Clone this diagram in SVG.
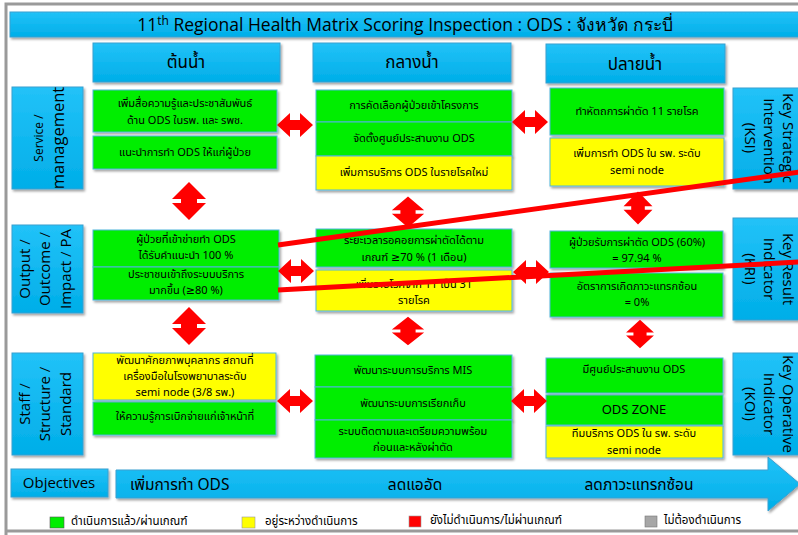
<svg xmlns="http://www.w3.org/2000/svg" width="798" height="535" viewBox="0 0 798 535">
<defs>
<filter id="sh" x="-10%" y="-10%" width="120%" height="130%">
<feDropShadow dx="1.5" dy="2" stdDeviation="1" flood-color="#000" flood-opacity="0.35"/>
</filter>
<linearGradient id="bl" x1="0" y1="0" x2="0" y2="1">
<stop offset="0" stop-color="#22c2f8"/>
<stop offset="1" stop-color="#00aee8"/>
</linearGradient>
<path id="ha" d="M-18,0 L-5,-12 L-5,-5 L5,-5 L5,-12 L18,0 L5,12 L5,5 L-5,5 L-5,12 Z"/>
<path id="va" d="M0,-19 L17,-2 L8,-2 L8,2 L17,2 L0,19 L-17,2 L-8,2 L-8,-2 L-17,-2 Z"/>
</defs>
<style>
.blue{fill:url(#bl);stroke:#3a9fd0;stroke-width:1;filter:url(#sh)}
.g{fill:#00ee00;stroke:#4fb5dc;stroke-width:1;filter:url(#sh)}
.y{fill:#ffff00;stroke:#4fb5dc;stroke-width:1;filter:url(#sh)}
.t{font-family:"Tahoma","Noto Sans Thai","Noto Sans","DejaVu Sans",sans-serif;font-size:11px;fill:#000;text-anchor:middle}
.h{font-family:"Tahoma","Noto Sans Thai","Noto Sans","DejaVu Sans",sans-serif;font-size:17px;fill:#000;text-anchor:middle}
.lab{font-family:"Open Sans","Noto Sans","DejaVu Sans",sans-serif;font-size:15px;fill:#000;text-anchor:middle}
.obj{font-family:"Tahoma","Noto Sans Thai","Noto Sans","DejaVu Sans",sans-serif;font-size:15.5px;fill:#000;text-anchor:middle}
.leg{font-family:"Tahoma","Noto Sans Thai","Noto Sans","DejaVu Sans",sans-serif;font-size:11.5px;fill:#000}
.red{fill:#ff0000}
.strike{stroke:#ff0000;stroke-width:5;stroke-linecap:butt}
</style>
<rect width="798" height="535" fill="#fff"/>
<g id="frame" fill="none" stroke="#9a9a9a" stroke-width="3">
<path d="M6,540 L6,4 L805,4"/>
<path d="M6,531 L805,531"/>
</g>
<g id="title">
<rect x="10" y="12" width="795" height="25" class="blue"/>
<text x="405" y="31" class="lab" style="font-size:17.5px">11<tspan dy="-6" style="font-size:12px">th</tspan><tspan dy="6"> Regional Health Matrix Scoring Inspection : ODS : จังหวัด กระบี่</tspan></text>
</g>
<g id="hdr1"><rect x="93" y="43" width="187" height="39" class="blue"/><text x="186" y="68" class="h">ต้นน้ำ</text></g>
<g id="hdr2"><rect x="313" y="43" width="198" height="39" class="blue"/><text x="412" y="68" class="h">กลางน้ำ</text></g>
<g id="hdr3"><rect x="546" y="44" width="179" height="39" class="blue"/><text x="635" y="70" class="h">ปลายน้ำ</text></g>
<g id="row-service"><rect x="12" y="87" width="71" height="102" class="blue"/>
<text transform="translate(43,138) rotate(-90)" class="lab" style="font-size:12px">Service /</text>
<text transform="translate(64,138) rotate(-90)" class="lab" style="font-size:16.5px">management</text></g>
<g id="row-output"><rect x="12" y="225" width="71" height="88" class="blue"/>
<text transform="translate(30,269) rotate(-90)" class="lab">Output /</text>
<text transform="translate(50,269) rotate(-90)" class="lab">Outcome /</text>
<text transform="translate(71,269) rotate(-90)" class="lab">Impact / PA</text></g>
<g id="row-staff"><rect x="12" y="353" width="71" height="102" class="blue"/>
<text transform="translate(30,404) rotate(-90)" class="lab">Staff /</text>
<text transform="translate(50,404) rotate(-90)" class="lab">Structure /</text>
<text transform="translate(71,404) rotate(-90)" class="lab">Standard</text></g>
<g id="ksi"><rect x="733" y="88" width="72" height="101" class="blue"/>
<text transform="translate(783,138) rotate(90)" class="lab">Key Strategic</text>
<text transform="translate(764,141) rotate(90)" class="lab">Intervention</text>
<text transform="translate(745,138) rotate(90)" class="lab">(KSI)</text></g>
<g id="kri"><rect x="733" y="218" width="72" height="102" class="blue"/>
<text transform="translate(783,269) rotate(90)" class="lab">Key Result</text>
<text transform="translate(764,269) rotate(90)" class="lab">Indicator</text>
<text transform="translate(745,269) rotate(90)" class="lab">(KRI)</text></g>
<g id="koi"><rect x="733" y="353" width="72" height="102" class="blue"/>
<text transform="translate(783,404) rotate(90)" class="lab">Key Operative</text>
<text transform="translate(764,404) rotate(90)" class="lab">Indicator</text>
<text transform="translate(745,404) rotate(90)" class="lab">(KOI)</text></g>

<g id="c1r1a"><rect x="93" y="90" width="184" height="42" class="g"/><text x="185" y="107" class="t">เพิ่มสื่อความรู้และประชาสัมพันธ์</text><text x="185" y="124" class="t">ด้าน ODS ในรพ. และ รพช.</text></g>
<g id="c1r1b"><rect x="93" y="136" width="184" height="33" class="g"/><text x="185" y="156" class="t">แนะนำการทำ ODS ให้แก่ผู้ป่วย</text></g>
<g id="c2r1a"><rect x="316" y="90" width="196" height="32" class="g"/><text x="414" y="109" class="t">การคัดเลือกผู้ป่วยเข้าโครงการ</text></g>
<g id="c2r1b"><rect x="316" y="122" width="196" height="34" class="g"/><text x="414" y="142" class="t">จัดตั้งศูนย์ประสานงาน ODS</text></g>
<g id="c2r1c"><rect x="316" y="156" width="196" height="34" class="y"/><text x="414" y="176" class="t">เพิ่มการบริการ ODS ในรายโรคใหม่</text></g>
<g id="c3r1a"><rect x="550" y="88" width="174" height="47" class="g"/><text x="637" y="115" class="t">ทำหัตถการผ่าตัด 11 รายโรค</text></g>
<g id="c3r1b"><rect x="550" y="138" width="174" height="48" class="y"/><text x="637" y="157" class="t">เพิ่มการทำ ODS ใน รพ. ระดับ</text><text x="637" y="174" class="t">semi node</text></g>

<g id="c1r2a"><rect x="93" y="230" width="186" height="37" class="g"/><text x="186" y="243" class="t">ผู้ป่วยที่เข้าข่ายทำ ODS</text><text x="186" y="259" class="t">ได้รับคำแนะนำ 100 %</text></g>
<g id="c1r2b"><rect x="93" y="267" width="186" height="33" class="g"/><text x="186" y="278" class="t">ประชาชนเข้าถึงระบบบริการ</text><text x="186" y="294" class="t">มากขึ้น (≥80 %)</text></g>
<g id="c2r2a"><rect x="316" y="229" width="196" height="38" class="g"/><text x="414" y="244" class="t">ระยะเวลารอคอยการผ่าตัดได้ตาม</text><text x="414" y="261" class="t">เกณฑ์  ≥70 % (1 เดือน)</text></g>
<g id="c2r2b"><rect x="316" y="270" width="196" height="41" class="y"/><text x="414" y="288" class="t">เพิ่มรายโรคจาก 11 เป็น 31</text><text x="414" y="304" class="t">รายโรค</text></g>
<g id="c3r2a"><rect x="550" y="231" width="173" height="37" class="g"/><text x="637" y="246" class="t">ผู้ป่วยรับการผ่าตัด  ODS (60%)</text><text x="637" y="262" class="t">= 97.94 %</text></g>
<g id="c3r2b"><rect x="550" y="273" width="173" height="44" class="g"/><text x="637" y="290" class="t">อัตราการเกิดภาวะแทรกซ้อน</text><text x="637" y="306" class="t">= 0%</text></g>

<g id="c1r3a"><rect x="93" y="353" width="183" height="47" class="y"/><text x="185" y="364" class="t">พัฒนาศักยภาพบุคลากร สถานที่</text><text x="185" y="380" class="t">เครื่องมือในโรงพยาบาลระดับ</text><text x="185" y="396" class="t">semi node (3/8 รพ.)</text></g>
<g id="c1r3b"><rect x="93" y="402" width="183" height="33" class="g"/><text x="185" y="420" class="t">ให้ความรู้การเบิกจ่ายแก่เจ้าหน้าที่</text></g>
<g id="c2r3a"><rect x="315" y="355" width="197" height="32" class="g"/><text x="413" y="374" class="t">พัฒนาระบบการบริการ MIS</text></g>
<g id="c2r3b"><rect x="315" y="387" width="197" height="33" class="g"/><text x="413" y="407" class="t">พัฒนาระบบการเรียกเก็บ</text></g>
<g id="c2r3c"><rect x="315" y="420" width="197" height="38" class="g"/><text x="413" y="435" class="t">ระบบติดตามและเตรียมความพร้อม</text><text x="413" y="451" class="t">ก่อนและหลังผ่าตัด</text></g>
<g id="c3r3a"><rect x="546" y="358" width="177" height="35" class="g"/><text x="634" y="373" class="t">มีศูนย์ประสานงาน ODS</text></g>
<g id="c3r3b"><rect x="546" y="395" width="177" height="30" class="g"/><text x="634" y="414" class="t" style="font-size:13px">ODS ZONE</text></g>
<g id="c3r3c"><rect x="546" y="426" width="177" height="32" class="y"/><text x="634" y="437" class="t">ทีมบริการ ODS ใน รพ. ระดับ</text><text x="634" y="454" class="t">semi node</text></g>

<g id="connectors" class="red">
<use href="#ha" transform="translate(295,125)"/>
<use href="#ha" transform="translate(530,122)"/>
<use href="#ha" transform="translate(296,271)"/>
<use href="#ha" transform="translate(531,272)"/>
<use href="#ha" transform="translate(295,401)"/>
<use href="#ha" transform="translate(529,401)"/>
<use href="#va" transform="translate(189,201)"/>
<use href="#va" transform="translate(189,326)"/>
<use href="#va" transform="translate(408,212) scale(0.95,0.82)"/>
<use href="#va" transform="translate(408,331) scale(0.95,0.75)"/>
<use href="#va" transform="translate(638,208) scale(0.85,0.87)"/>
<use href="#va" transform="translate(640,334) scale(0.82,0.75)"/>
</g>

<g id="objectives"><rect x="11" y="469" width="97" height="28" class="blue"/><text x="59" y="488" class="lab">Objectives</text></g>
<g id="objective-arrow">
<polygon points="116,470 768,470 768,457 800,484 768,511 768,498 116,498" class="blue"/>
<text x="130" y="490" class="obj" style="text-anchor:start">เพิ่มการทำ ODS</text>
<text x="415" y="490" class="obj">ลดแออัด</text>
<text x="639" y="490" class="obj">ลดภาวะแทรกซ้อน</text>
</g>

<g id="strike">
<line x1="278" y1="245" x2="800" y2="172" class="strike"/>
<line x1="278" y1="290" x2="800" y2="262" class="strike"/>
</g>

<g id="legend">
<rect x="50" y="517" width="14" height="11" fill="#00ee00" stroke="#555" stroke-width="0.6"/>
<text x="71" y="525" class="leg">ดำเนินการแล้ว/ผ่านเกณฑ์</text>
<rect x="242" y="517" width="13" height="11" fill="#ffff00" stroke="#999" stroke-width="0.6"/>
<text x="265" y="525" class="leg">อยู่ระหว่างดำเนินการ</text>
<rect x="409" y="516" width="12" height="11" fill="#ff0000" stroke="#999" stroke-width="0.6"/>
<text x="430" y="524" class="leg">ยังไม่ดำเนินการ/ไม่ผ่านเกณฑ์</text>
<rect x="645" y="516" width="12" height="11" fill="#a6a6a6" stroke="#777" stroke-width="0.6"/>
<text x="664" y="524" class="leg">ไม่ต้องดำเนินการ</text>
</g>
</svg>
